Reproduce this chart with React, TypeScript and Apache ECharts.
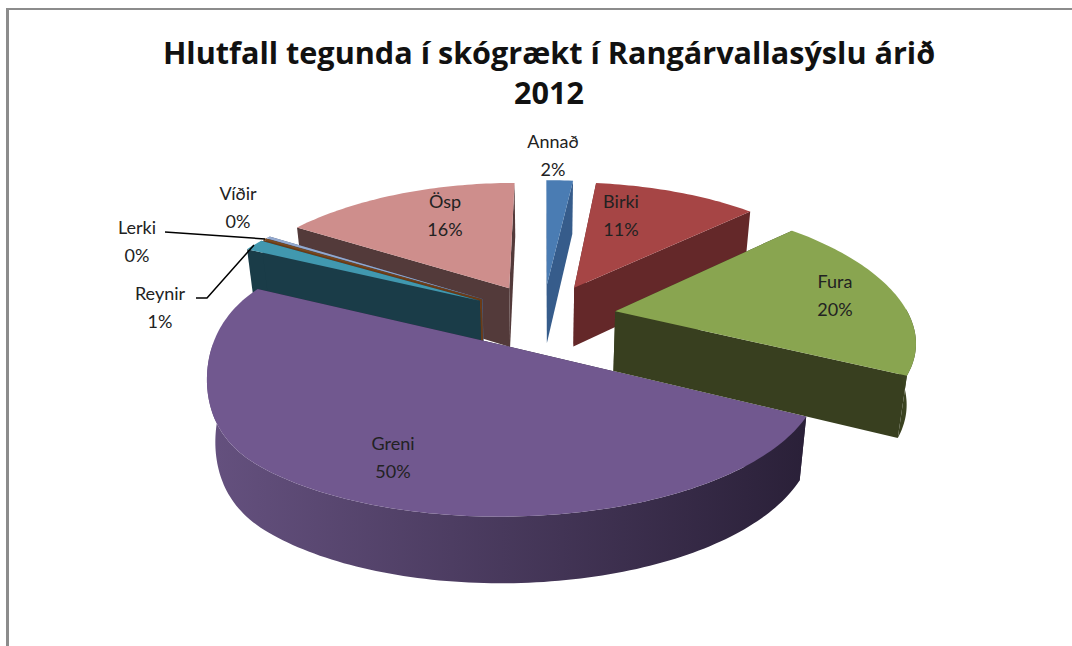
import React, { useEffect, useRef } from "react";
import * as echarts from "echarts";

const categories = ["Annað", "Birki", "Fura", "Greni", "Reynir", "Lerki", "Víðir", "Ösp"];
const shares = [1.8, 11, 19.8, 49.6, 1.4, 0.2, 0.3, 15.9];
const percentLabels = ["2%", "11%", "20%", "50%", "1%", "0%", "0%", "16%"];
const topColors = ["#4a7cb3", "#a64545", "#89a550", "#71588f", "#4198af", "#7a4a20", "#93a9cf", "#ce8e8c"];
const radialWall = ["#365c8b", "#642829", "#383f1f", "#2a2038", "#1a3c48", "#6a3b17", "#4a5a78", "#533a3a"];
const arcWallLight = ["#365c8b", "#7a3232", "#404a24", "#65517f", "#1a3c48", "#6a3b17", "#4a5a78", "#6a4a4a"];
const arcWallDark = ["#365c8b", "#642829", "#383f1f", "#2a2038", "#1a3c48", "#6a3b17", "#4a5a78", "#533a3a"];
const paintOrder = [0, 1, 7, 6, 5, 4, 2, 3];
const labelX = [553, 621, 835, 393, 160, 137, 238, 445];
const labelY = [155, 215, 295, 457, 307, 241, 207, 215];

const cx = 543, cy = 316, Rx = 294, Ry = 131, perspX = 0.195, perspY = 0.1645, blast = 0.25, wall = 60;
const leftKnee = 0.947, leftEase = 0.8, converge = 0.025;

const total = shares.reduce((a, b) => a + b, 0);

function project(wx: number, wy: number) {
  let u = wx / (1 + perspX * wy);
  if (u < -leftKnee) {
    const e = -u - leftKnee;
    u = -leftKnee - (e - leftEase * e * e);
  }
  const s = 1 / (1 + perspY * wy);
  return { x: cx + Rx * u, y: cy - Ry * wy * s, d: wall * (1 - 0.09 * wy) };
}

function sliceShapes(i: number) {
  const before = shares.slice(0, i).reduce((a, b) => a + b, 0);
  const a0 = (before / total) * Math.PI * 2;
  const a1 = ((before + shares[i]) / total) * Math.PI * 2;
  const mid = (a0 + a1) / 2;
  const ox = blast * Math.sin(mid);
  const oy = blast * Math.cos(mid);
  const apex = project(ox, oy);
  const n = Math.max(4, Math.ceil((a1 - a0) / 0.02));
  const rim: { x: number; y: number; d: number }[] = [];
  const frontRim: { x: number; y: number; d: number }[] = [];
  for (let k = 0; k <= n; k++) {
    const a = a0 + ((a1 - a0) * k) / n;
    const p = project(ox + Math.sin(a), oy + Math.cos(a));
    rim.push(p);
    if (Math.cos(a) <= 0.02) frontRim.push(p);
  }
  return { apex, rim, frontRim };
}

const pts = (list: { x: number; y: number }[]) => list.map((p) => [p.x, p.y]);
const down = (p: { x: number; y: number; d: number }) => ({ x: cx + (p.x - cx) * (1 - converge), y: p.y + p.d });

function renderSlice(params: any) {
  const i = params.dataIndex;
  const { apex, rim, frontRim } = sliceShapes(i);
  const base = paintOrder.indexOf(i) * 10;
  const first = rim[0];
  const last = rim[rim.length - 1];
  const children: any[] = [
    { type: "polygon", z2: base, shape: { points: pts([apex, first, down(first), down(apex)]) }, style: { fill: radialWall[i] } },
    { type: "polygon", z2: base + 1, shape: { points: pts([apex, last, down(last), down(apex)]) }, style: { fill: radialWall[i] } },
  ];
  if (frontRim.length > 1) {
    const arcWall = [...frontRim, ...frontRim.slice().reverse().map(down)];
    const leftFirst = frontRim[0].x < frontRim[frontRim.length - 1].x;
    children.push({
      type: "polygon",
      z2: base + 2,
      shape: { points: pts(arcWall) },
      style: {
        fill: new echarts.graphic.LinearGradient(0, 0, 1, 0, [
          { offset: 0, color: leftFirst ? arcWallDark[i] : arcWallLight[i] },
          { offset: 1, color: leftFirst ? arcWallLight[i] : arcWallDark[i] },
        ]),
      },
    });
  }
  children.push({ type: "polygon", z2: base + 3, shape: { points: pts([apex, ...rim]) }, style: { fill: topColors[i] } });
  return { type: "group", children };
}

export default function App() {
  const ref = useRef<HTMLDivElement>(null);
  useEffect(() => {
    const chart = echarts.init(ref.current!, null, { renderer: "svg" });
    const font = "Lato";
    chart.setOption({
      animation: false,
      backgroundColor: "#ffffff",
      title: {
        text: "Hlutfall tegunda í skógrækt í Rangárvallasýslu árið\n2012",
        left: 544,
        top: 27,
        textAlign: "center",
        textStyle: { fontFamily: "Open Sans", fontWeight: "bold", fontSize: 30.6, lineHeight: 40, color: "#111" },
      },
      series: [
        {
          type: "custom",
          coordinateSystem: "none",
          silent: true,
          renderItem: renderSlice,
          data: shares,
        },
      ],
      graphic: [
        { type: "line", z: 50, shape: { x1: 6, y1: 9, x2: 1072, y2: 9 }, style: { stroke: "#8c8c8c", lineWidth: 2 } },
        { type: "line", z: 50, shape: { x1: 7.5, y1: 9, x2: 7.5, y2: 646 }, style: { stroke: "#8c8c8c", lineWidth: 3 } },
        { type: "polyline", z: 50, shape: { points: [[165, 232], [265, 239]] }, style: { stroke: "#000", lineWidth: 1.5, fill: "none" } },
        { type: "polyline", z: 50, shape: { points: [[196, 298], [207, 298], [254, 245]] }, style: { stroke: "#000", lineWidth: 1.5, fill: "none" } },
        ...categories.map((c, i) => ({
          type: "text",
          z: 60,
          x: labelX[i],
          y: labelY[i],
          style: {
            text: c + "\n" + percentLabels[i],
            fontFamily: font,
            fontSize: 18,
            lineHeight: 28,
            fill: "#222",
            align: "center",
            verticalAlign: "middle",
          },
        })),
      ],
    });
    return () => chart.dispose();
  }, []);
  return <div ref={ref} style={{ position: "fixed", left: 0, top: 0, width: 1072, height: 646 }} />;
}
